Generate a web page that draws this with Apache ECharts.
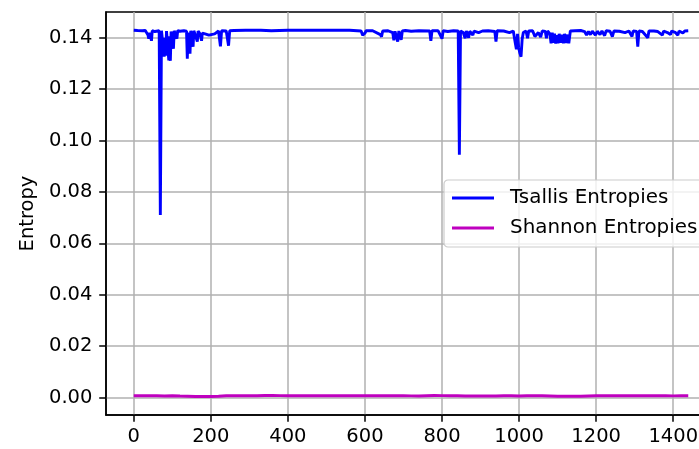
<!DOCTYPE html>
<html>
<head>
<meta charset="utf-8">
<script src="https://cdn.jsdelivr.net/npm/echarts@6/dist/echarts.min.js"></script>
<style>
  html, body { margin: 0; padding: 0; background: #fff; }
  #chart { width: 699px; height: 449px; }
</style>
</head>
<body>
<div id="chart"></div>
<script>
// Tsallis entropy per step: [step, entropy]
const tsallisPoints = [
  [0,0.1429],[10,0.1428],[22,0.1427],[30,0.1428],
  [37,0.1410],[39,0.1396],[41,0.1420],[44,0.1426],[46,0.1388],[48,0.1427],
  [55,0.1424],[60,0.1427],[66,0.1427],[69,0.0710],[72,0.1427],
  [77,0.1424],[79,0.1326],[81,0.1400],[83,0.1330],[85,0.1426],
  [89,0.1420],[91,0.1312],[93,0.1405],[95,0.1310],[97,0.1424],
  [101,0.1426],[103,0.1357],[105,0.1427],
  [110,0.1426],[112,0.1396],[114,0.1427],
  [120,0.1425],[125,0.1420],[130,0.1427],
  [137,0.1425],[139,0.1318],[141,0.1420],[144,0.1426],[146,0.1338],[148,0.1427],
  [152,0.1425],[154,0.1365],[156,0.1427],
  [161,0.1420],[165,0.1385],[167,0.1426],
  [172,0.1415],[176,0.1388],[178,0.1418],[185,0.1415],[195,0.1410],[200,0.1412],[210,0.1415],
  [220,0.1426],[225,0.1366],[228,0.1427],
  [240,0.1426],[246,0.1369],[249,0.1427],
  [260,0.1428],[290,0.1429],[330,0.1429],[357,0.1427],[359,0.1420],[361,0.1428],
  [400,0.1429],[450,0.1429],[500,0.1429],[560,0.1429],[590,0.1426],
  [594,0.1410],[597,0.1404],[600,0.1418],[603,0.1427],
  [620,0.1427],[640,0.1412],[643,0.1404],[646,0.1426],
  [660,0.1427],[672,0.1420],[675,0.1390],[678,0.1425],[685,0.1385],[688,0.1426],[694,0.1392],[697,0.1426],
  [705,0.1428],[720,0.1425],[740,0.1427],[768,0.1426],[771,0.1388],[774,0.1427],
  [790,0.1427],[800,0.1396],[803,0.1427],
  [815,0.1424],[830,0.1427],[842,0.1426],[845,0.0945],[848,0.1426],
  [855,0.1420],[860,0.1398],[863,0.1426],[869,0.1400],[872,0.1425],[880,0.1410],[883,0.1426],
  [895,0.1420],[905,0.1426],[920,0.1427],[937,0.1424],[940,0.1385],[943,0.1427],
  [960,0.1426],[975,0.1420],[985,0.1426],
  [990,0.1380],[993,0.1355],[996,0.1415],[999,0.1360],[1002,0.1340],[1005,0.1326],[1008,0.1395],[1011,0.1420],
  [1018,0.1426],[1022,0.1398],[1025,0.1426],
  [1035,0.1427],[1041,0.1405],[1045,0.1400],[1050,0.1420],[1056,0.1402],[1060,0.1426],
  [1068,0.1424],[1071,0.1398],[1074,0.1426],
  [1080,0.1415],[1083,0.1378],[1086,0.1420],[1089,0.1380],[1092,0.1416],[1095,0.1377],[1098,0.1410],
  [1101,0.1378],[1104,0.1415],[1108,0.1380],[1111,0.1412],[1115,0.1378],[1118,0.1415],[1122,0.1379],
  [1126,0.1412],[1129,0.1378],[1133,0.1426],
  [1145,0.1427],[1160,0.1428],[1170,0.1424],[1175,0.1410],[1180,0.1424],[1185,0.1412],[1190,0.1425],
  [1198,0.1410],[1203,0.1425],[1210,0.1412],[1215,0.1426],[1222,0.1408],[1226,0.1427],
  [1236,0.1425],[1242,0.1404],[1246,0.1426],[1260,0.1425],[1275,0.1420],[1285,0.1426],[1293,0.1405],[1296,0.1426],
  [1305,0.1424],[1308,0.1365],[1311,0.1426],[1320,0.1424],[1334,0.1400],[1337,0.1426],
  [1350,0.1426],[1360,0.1424],[1372,0.1410],[1375,0.1426],[1385,0.1420],[1393,0.1412],[1396,0.1426],
  [1405,0.1421],[1412,0.1410],[1415,0.1426],[1425,0.1418],[1430,0.1426],[1439,0.1427]
];

// Shannon entropy per step: [step, entropy]
const shannonPoints = [
  [0,0.00070],[20,0.00072],[40,0.00068],[60,0.00071],[80,0.00062],[100,0.00070],[120,0.00060],
  [140,0.00052],[160,0.00042],[180,0.00040],[200,0.00042],[220,0.00052],[240,0.00068],[260,0.00071],
  [280,0.00070],[300,0.00072],[320,0.00070],[340,0.00076],[360,0.00078],[380,0.00072],[400,0.00070],
  [420,0.00071],[440,0.00069],[460,0.00072],[480,0.00070],[500,0.00071],[520,0.00069],[540,0.00071],
  [560,0.00070],[580,0.00072],[600,0.00070],[620,0.00069],[640,0.00071],[660,0.00070],[680,0.00068],
  [700,0.00070],[720,0.00066],[740,0.00062],[760,0.00070],[780,0.00078],[800,0.00072],[820,0.00070],
  [840,0.00069],[860,0.00062],[880,0.00060],[900,0.00061],[920,0.00060],[940,0.00062],[960,0.00068],
  [980,0.00071],[1000,0.00062],[1020,0.00068],[1040,0.00070],[1060,0.00069],[1080,0.00060],
  [1100,0.00050],[1120,0.00048],[1140,0.00050],[1160,0.00052],[1180,0.00060],[1200,0.00068],
  [1220,0.00071],[1240,0.00070],[1260,0.00072],[1280,0.00070],[1300,0.00069],[1320,0.00071],
  [1340,0.00070],[1360,0.00072],[1380,0.00070],[1400,0.00064],[1420,0.00070],[1439,0.00069]
];

const seriesNames = ['Tsallis Entropies', 'Shannon Entropies'];
const xTicks = [0, 200, 400, 600, 800, 1000, 1200, 1400];
const yTicks = [0, 0.02, 0.04, 0.06, 0.08, 0.10, 0.12, 0.14];

const FONT = 'DejaVu Sans';
const FS = 19.5;

const chart = echarts.init(document.getElementById('chart'), null, { renderer: 'canvas' });

chart.setOption({
  animation: false,
  backgroundColor: '#ffffff',
  textStyle: { fontFamily: FONT },
  grid: {
    left: 106, top: 12, width: 610, height: 403,
    outerBoundsMode: 'none',
    containLabel: false,
    show: true, borderColor: '#000', borderWidth: 1.5, backgroundColor: 'transparent'
  },
  legend: {
    orient: 'vertical',
    left: 444, top: 180,
    padding: [8, 24, 9, 8],
    itemGap: 10,
    itemWidth: 42, itemHeight: 3,
    icon: 'rect',
    backgroundColor: 'rgba(255,255,255,0.8)',
    borderColor: '#cccccc', borderWidth: 1.2, borderRadius: 4,
    textStyle: { fontFamily: FONT, fontSize: 19.9, color: '#000', padding: [0, 0, 0, 11], lineHeight: 19 },
    data: seriesNames
  },
  xAxis: {
    type: 'value',
    min: -72, max: 1511,
    splitNumber: 8,
    axisLine: { show: true, onZero: false, lineStyle: { color: '#000', width: 1.5 } },
    axisTick: { show: true, length: 6.8, lineStyle: { color: '#000', width: 1.5 }, customValues: xTicks },
    axisLabel: {
      customValues: xTicks,
      margin: 12, fontFamily: FONT, fontSize: FS, color: '#000',
      formatter: v => String(v)
    },
    splitLine: { show: true, lineStyle: { color: '#b0b0b0', width: 1.5 } }
  },
  yAxis: {
    type: 'value',
    min: -0.0068, max: 0.1500,
    splitNumber: 8,
    name: 'Entropy',
    nameLocation: 'middle',
    nameGap: 68,
    nameTextStyle: { fontFamily: FONT, fontSize: FS, color: '#000' },
    axisLine: { show: true, onZero: false, lineStyle: { color: '#000', width: 1.5 } },
    axisTick: { show: true, length: 6.8, lineStyle: { color: '#000', width: 1.5 }, customValues: yTicks },
    axisLabel: {
      customValues: yTicks,
      margin: 13.6, fontFamily: FONT, fontSize: FS, color: '#000',
      formatter: v => v.toFixed(2)
    },
    splitLine: { show: true, lineStyle: { color: '#b0b0b0', width: 1.5 } }
  },
  series: [
    {
      name: seriesNames[0],
      type: 'line',
      data: tsallisPoints,
      showSymbol: false,
      color: '#0000ff',
      lineStyle: { color: '#0000ff', width: 2.9 },
      z: 3
    },
    {
      name: seriesNames[1],
      type: 'line',
      data: shannonPoints,
      showSymbol: false,
      color: '#bf00bf',
      lineStyle: { color: '#bf00bf', width: 2.9 },
      z: 3
    }
  ]
});
</script>
</body>
</html>
